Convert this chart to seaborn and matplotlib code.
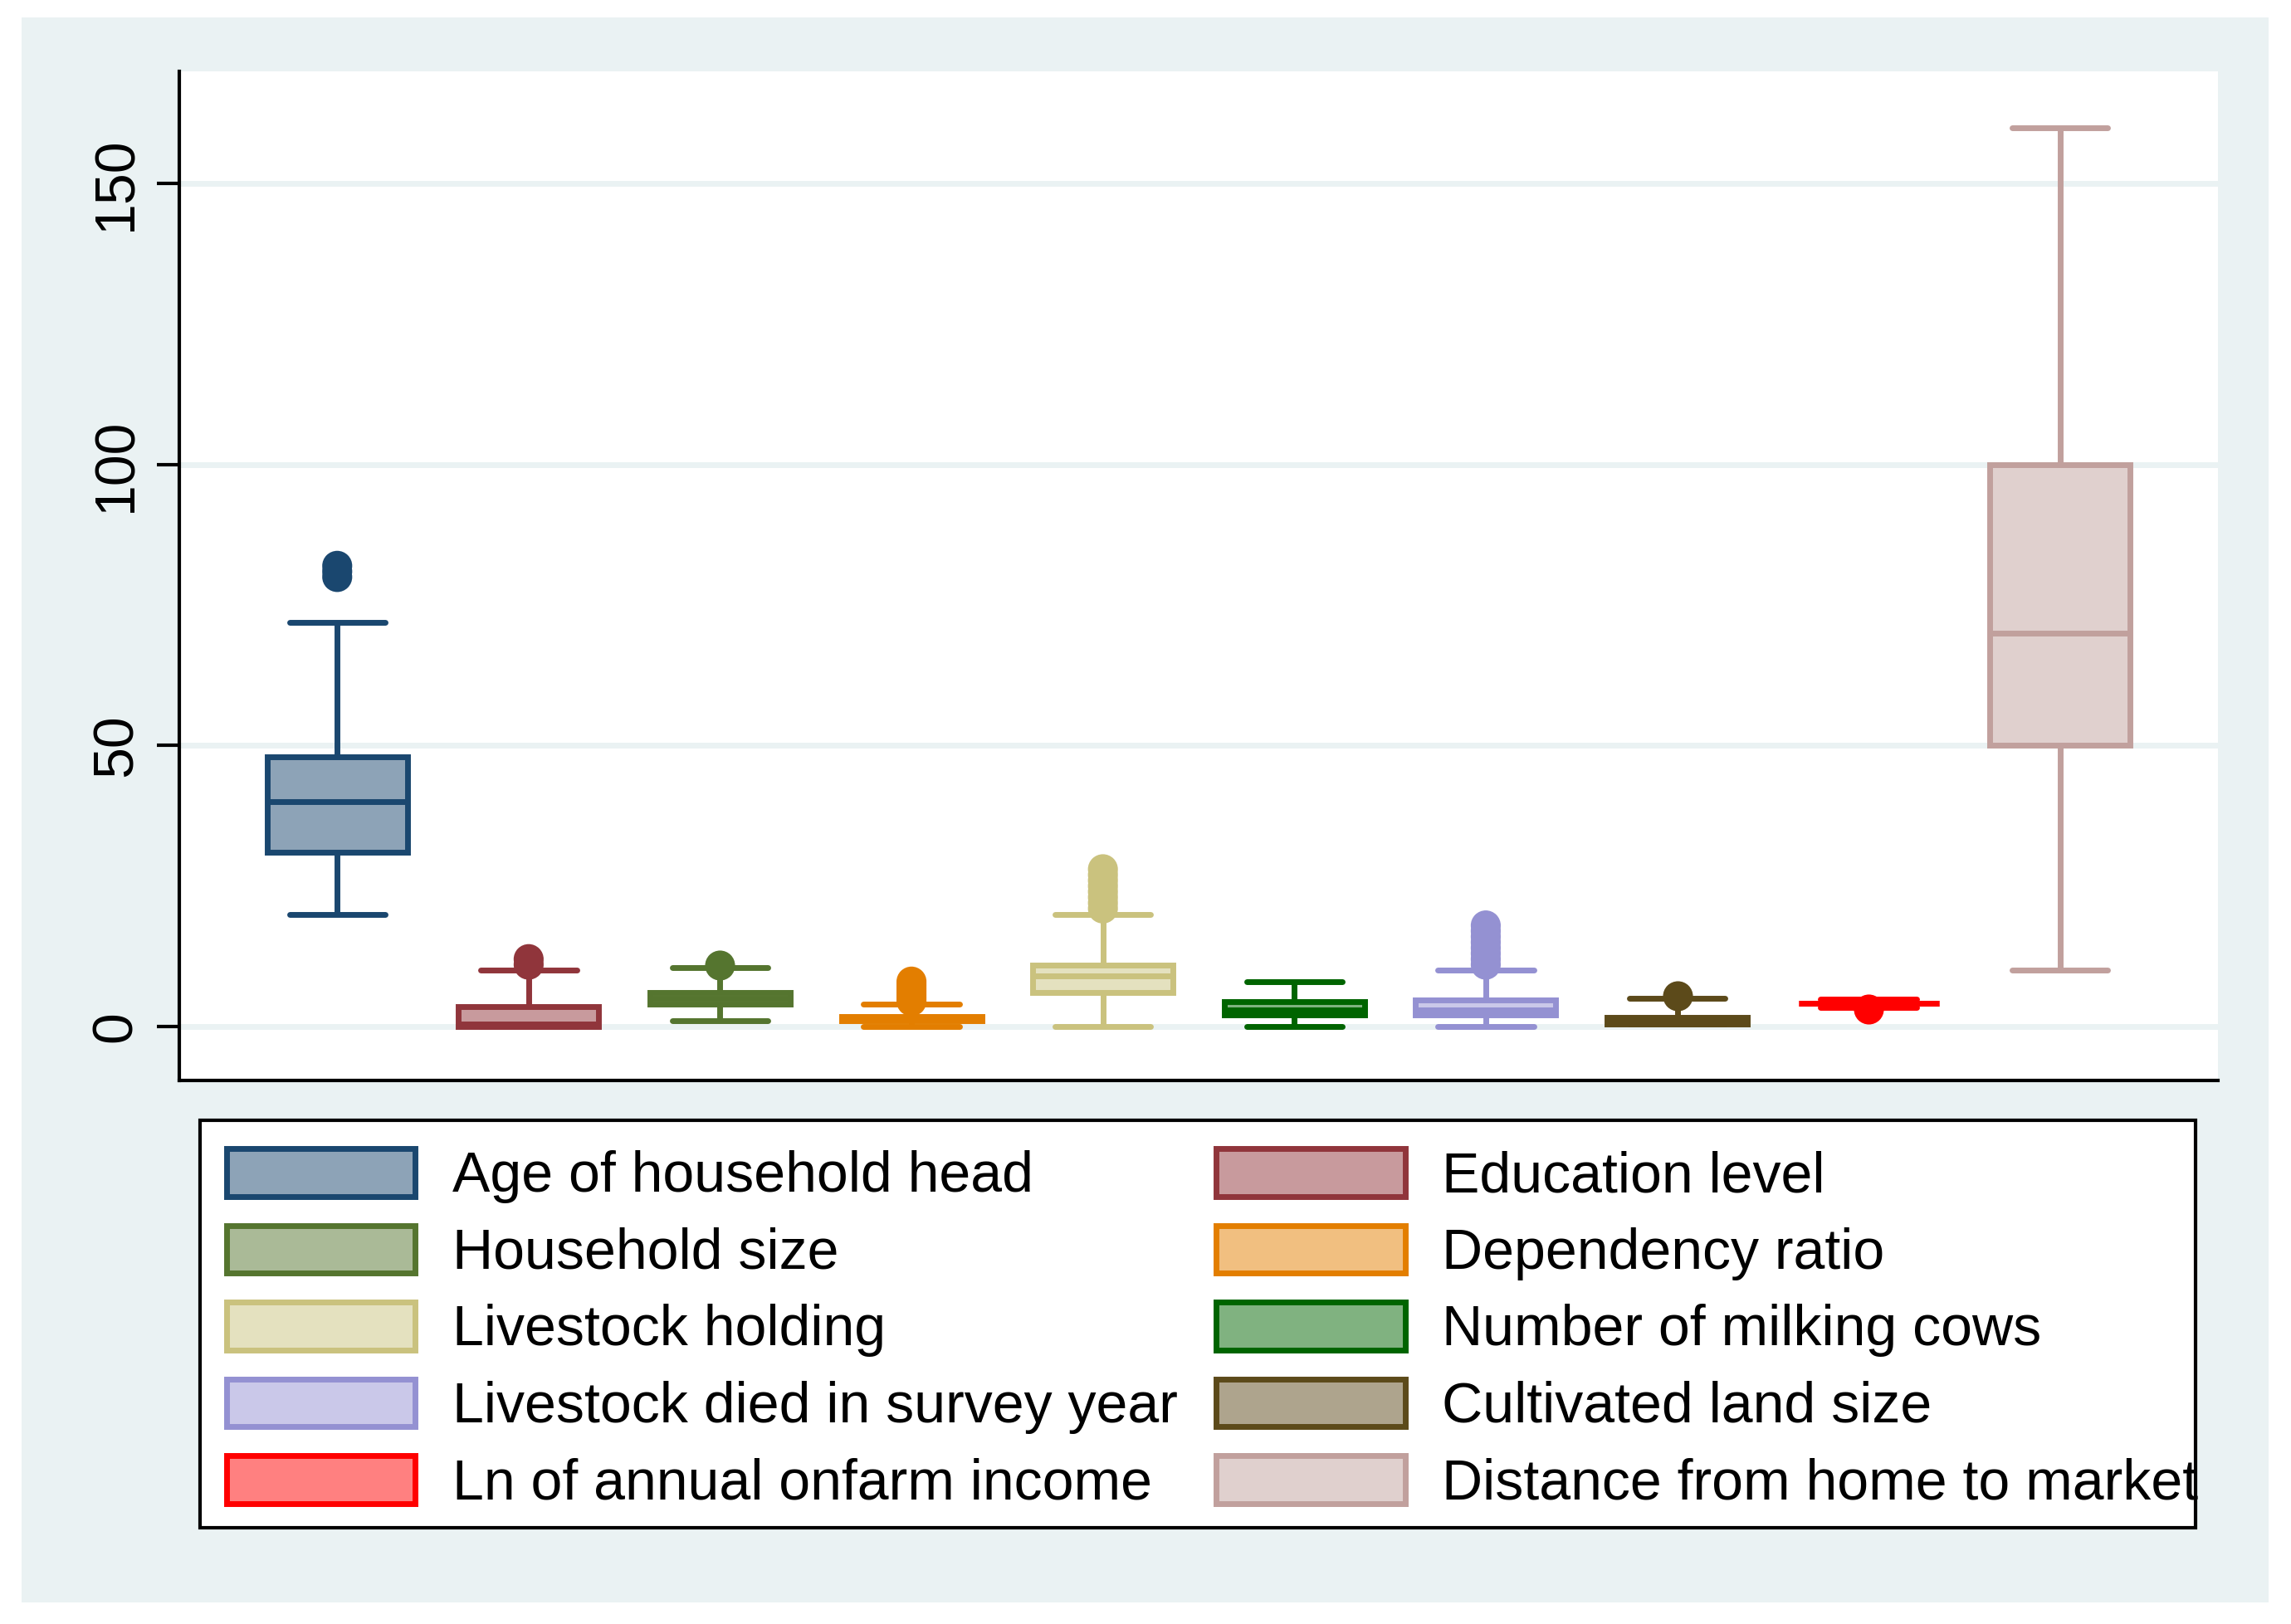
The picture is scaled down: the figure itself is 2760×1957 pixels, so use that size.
import numpy as np
import pandas as pd
import matplotlib
matplotlib.use("Agg")
import matplotlib.pyplot as plt
from matplotlib.patches import Patch, Rectangle
import seaborn as sns

# Box statistics
variables = ["Age of household head", "Education level", "Household size",
             "Dependency ratio", "Livestock holding", "Number of milking cows",
             "Livestock died in survey year", "Cultivated land size",
             "Ln of annual onfarm income", "Distance from home to market"]
whisker_low = [20, 0, 1, 0, 0, 0, 0, 0.5, 3.4, 10]
quartile_1 = [31, 0, 4, 1.0, 6, 2, 2, 0.5, 4.1, 50]
medians = [40, 0.5, 5, 1.3, 9, 3, 3, 1.0, 4.15, 70]
quartile_3 = [48, 3.5, 6, 1.75, 11, 4.5, 4.7, 1.6, 4.2, 100]
whisker_high = [72, 10, 10.5, 4, 20, 8, 10, 5, 4.9, 160]
outliers = [[80, 81, 82], [11, 12], [11], [4.5, 5, 5.5, 6, 6.5, 7, 7.5, 8],
            [21, 22, 23, 24, 25, 26, 27, 28], [], [11, 12, 13, 14, 15, 16, 17, 18],
            [5.5], [3.1], []]

line_colors = ["#1A476F", "#90353B", "#55752F", "#E37E00", "#CAC27E",
               "#006400", "#9491D2", "#5C4A1A", "#FF0000", "#C1A09D"]
bg_color = "#EAF2F3"


def lighten(c, amount=0.5):
    rgb = np.array(matplotlib.colors.to_rgb(c))
    return tuple(rgb + (1 - rgb) * amount)


fill_colors = [lighten(c) for c in line_colors]

# long-form tables for seaborn
box_rows = []
for i, v in enumerate(variables):
    for val in [whisker_low[i], quartile_1[i], medians[i], quartile_3[i], whisker_high[i]]:
        box_rows.append({"variable": v, "value": val})
box_df = pd.DataFrame(box_rows)

out_rows = []
for i, v in enumerate(variables):
    for val in outliers[i]:
        out_rows.append({"variable": v, "value": val})
out_df = pd.DataFrame(out_rows)

sns.set_style("white")
plt.rcParams["font.family"] = ["Liberation Sans", "DejaVu Sans"]
plt.rcParams["text.color"] = "black"

W, H = 2760, 1957
fig = plt.figure(figsize=(W / 100, H / 100), dpi=100, facecolor="white")

# light outer panel
fig.patches.append(Rectangle((26 / W, 26 / H), (2733 - 26) / W, (1936 - 26) / H,
                             transform=fig.transFigure, facecolor=bg_color,
                             edgecolor="none", zorder=-1))

ax = fig.add_axes([216 / W, (H - 1302) / H, (2672 - 216) / W, (1302 - 86) / H])
ax.set_facecolor("white")

for i, v in enumerate(variables):
    sns.boxplot(data=box_df[box_df["variable"] == v], x="variable", y="value",
                order=variables, color=fill_colors[i], linecolor=line_colors[i],
                saturation=1, width=0.733, whis=(0, 100), showfliers=False,
                linewidth=5, capwidths=0.5, ax=ax)

sns.stripplot(data=out_df, x="variable", y="value", order=variables,
              hue="variable", hue_order=variables,
              palette=dict(zip(variables, line_colors)), jitter=False,
              size=26, linewidth=0, legend=False, ax=ax, zorder=5)

ax.set_xlim(-0.825, 9.825)
ax.set_ylim(-9.6, 170)
ax.set_yticks([0, 50, 100, 150])
ax.set_xticks([])
ax.set_xlabel("")
ax.set_ylabel("")
ax.yaxis.grid(True, color=bg_color, linewidth=5)
ax.set_axisbelow(True)
for side in ["top", "right"]:
    ax.spines[side].set_visible(False)
for side in ["left", "bottom"]:
    ax.spines[side].set_linewidth(3)
    ax.spines[side].set_color("black")
ax.tick_params(axis="y", left=True, length=19.5, width=3, labelsize=49,
               pad=12, labelrotation=90, colors="black")
for lbl in ax.get_yticklabels():
    lbl.set_va("center")

# legend frame and entries
fig.patches.append(Rectangle((241 / W, (H - 1841) / H), (2645 - 241) / W, (1841 - 1350) / H,
                             transform=fig.transFigure, facecolor="white",
                             edgecolor="black", linewidth=3, zorder=1))
handles = [Patch(facecolor=fill_colors[i], edgecolor=line_colors[i], linewidth=5)
           for i in range(len(variables))]
order = [0, 2, 4, 6, 8, 1, 3, 5, 7, 9]
fig.legend([handles[i] for i in order], [variables[i] for i in order],
           loc="upper left", bbox_to_anchor=(273 / W, (H - 1384) / H), ncol=2,
           frameon=False, borderpad=0, borderaxespad=0, handlelength=3.34,
           handleheight=0.93, handletextpad=0.65, columnspacing=0.69,
           labelspacing=0.385, labelcolor="black",
           prop={"family": "Liberation Sans", "size": 49})

fig.savefig("out.png", dpi=100)
